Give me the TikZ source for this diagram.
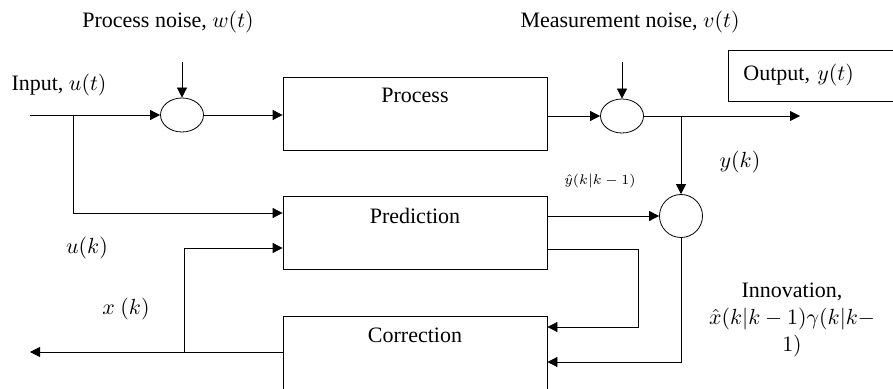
\documentclass[tikz,border=0pt]{standalone}
\usepackage{fontspec}
\setmainfont{Liberation Serif}
\usetikzlibrary{shapes,arrows.meta,positioning}
\begin{document}
\begin{tikzpicture}[x=0.5pt,y=-0.5pt,arrow/.style={-{Triangle[length=5pt,width=5pt]}},font=\fontsize{11}{13.5}\selectfont,block node/.style={draw,minimum width=132pt,minimum height=36.5pt,inner sep=0pt},sum node/.style={draw,ellipse,minimum width=21.5pt,minimum height=17pt,inner sep=0pt},small text/.style={font=\fontsize{7.5}{8}\selectfont,inner sep=1pt}]
  \useasboundingbox (0,0) rectangle (893,389);
  
  \node[sum node] (s1) at (182,115) {};
  \node[sum node] (s2) at (622,116) {};
  \node[draw,circle,minimum size=21.5pt,inner sep=0pt] (s3) at (681,216) {};
  \node[block node] (proc) at (415,113.5) {};
  \node[block node] (pred) at (415,233) {};
  \node[block node,minimum height=40pt] (corr) at (415,356) {};
  \node[draw,anchor=west,minimum height=25.5pt,text width=70pt,inner xsep=7.5pt,align=left] (outbox) at (728,75.5) {Output, $y(t)$};
  
  \node[below=2pt of proc.north] {Process};
  \node[below=2.5pt of pred.north] {Prediction};
  \node[below=2.5pt of corr.north] {Correction};
  
  \node (pn) at (168,22) {Process noise, $w(t)$};
  \node (mn) at (630,22) {Measurement noise, $v(t)$};
  \node (inp) at (59,85) {Input, $u(t)$};
  \node (yk) at (740,162) {$y(k)$};
  \node[small text] (yhat) at (600,181) {$\hat{y}(k|k-1)$};
  \node (uk) at (87,248) {$u(k)$};
  \node (xk) at (126,309) {$x\ (k)$};
  \node[align=center,inner sep=1pt] (inno) at (792,320) {Innovation,\\$\hat{x}(k|k-1)\gamma(k|k-$\\$1)$};
  
  \coordinate (in) at (30,115);
  \coordinate (br1) at (73,115);
  \coordinate (w) at (182,62);
  \coordinate (v) at (622,62);
  \coordinate (br2) at (681,116);
  \coordinate (out) at (800,116);
  \coordinate (c1) at (638,327);
  \coordinate (fb) at (184,352);
  \coordinate (xout) at (30,352);
  
  \draw[arrow] (in) -- (s1);
  \draw[arrow] (w) -- (s1);
  \draw[arrow] (s1) -- (proc.west |- s1);
  \draw[arrow] (proc.east |- s2) -- (s2);
  \draw[arrow] (v) -- (s2);
  \draw[arrow] (s2) -- (out);
  \draw[arrow] (br2) -- (s3);
  \draw[arrow] (br1) |- ([yshift=10pt]pred.west);
  \draw[arrow] (fb) |- ([yshift=-7.5pt]pred.west);
  \draw[arrow] ([yshift=8.5pt]pred.east) -- (s3.west);
  \draw[arrow] ([yshift=-8pt]pred.east) -| (c1) -- ([yshift=14.5pt]corr.east);
  \draw[arrow] (s3) |- ([yshift=-3pt]corr.east);
  \draw[arrow] ([yshift=2pt]corr.west) -- (xout);
\end{tikzpicture}
\end{document}
